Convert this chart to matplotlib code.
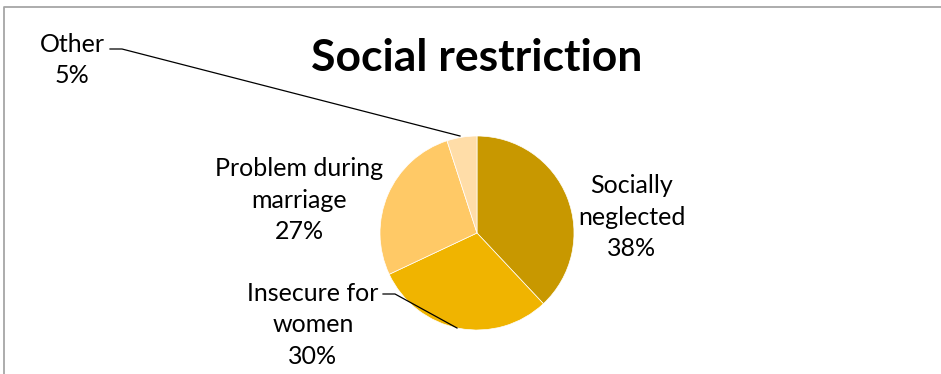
import matplotlib
matplotlib.use("Agg")
import matplotlib.pyplot as plt

title = "Social restriction"
categories = ["Socially neglected", "Insecure for women", "Problem during marriage", "Other"]
values = [38, 30, 27, 5]
labels = ["Socially\nneglected\n38%", "Insecure for\nwomen\n30%", "Problem during\nmarriage\n27%", "Other\n5%"]
colors = ["#C89800", "#F0B400", "#FFC966", "#FFDDA8"]

W, H = 941, 374
fig = plt.figure(figsize=(W / 100, H / 100), dpi=100)
ax = fig.add_axes([0, 0, 1, 1])
ax.set_xlim(0, W)
ax.set_ylim(0, H)
ax.axis("off")

def Y(y):
    return H - y

cx, cy, r = 477, 233, 97
ax.pie(values, colors=colors, startangle=90, counterclock=False,
       center=(cx, Y(cy)), radius=r, frame=True,
       wedgeprops=dict(edgecolor="white", linewidth=0.5))
ax.set_xlim(0, W)
ax.set_ylim(0, H)
ax.set_aspect("auto")
ax.axis("off")

font = "Lato"
ax.text(477, Y(58), title, ha="center", va="center", fontsize=32,
        fontweight="bold", family=font, color="black")

lab_pos = [(632, 217), (313, 325), (299, 200), (72, 60)]
for lab, (x, y) in zip(labels, lab_pos):
    ax.text(x, Y(y), lab, ha="center", va="center", fontsize=18,
            family=font, linespacing=1.45, color="black")

# leader lines
ax.plot([110, 122, 460], [Y(49), Y(49), Y(136)], color="black", lw=0.9)
ax.plot([383, 395, 457], [Y(294), Y(294), Y(328)], color="black", lw=0.9)

# border
ax.plot([4, 4, W], [0, Y(7), Y(7)], color="#A6A6A6", lw=1.3, solid_capstyle="butt")

fig.savefig("out.png", dpi=100)
